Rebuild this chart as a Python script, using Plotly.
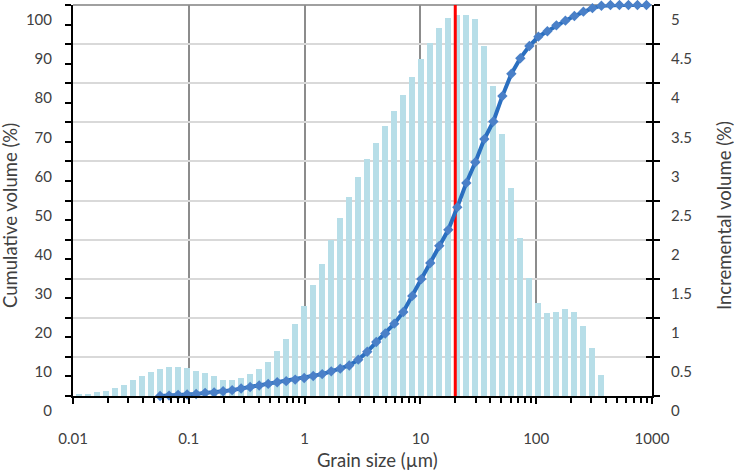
import plotly.graph_objects as go

# ---------------- data ----------------
grain_size_um = [
    0.01127, 0.01348, 0.01612, 0.01929, 0.02307, 0.02760, 0.03301, 0.03949, 0.04723, 0.05649,
    0.06758, 0.08084, 0.09670, 0.1157, 0.1383, 0.1655, 0.1979, 0.2368, 0.2831, 0.3387,
    0.4052, 0.4847, 0.5798, 0.6935, 0.8296, 0.9920, 1.187, 1.419, 1.698, 2.031,
    2.429, 2.906, 3.475, 4.157, 4.973, 5.948, 7.115, 8.511, 10.18, 12.17,
    14.56, 17.42, 20.84, 24.92, 29.81, 35.66, 42.65, 51.02, 61.01, 72.98,
    87.30, 104.4, 124.9, 149.4, 178.7, 213.7, 255.6, 305.8, 365.7, 437.5,
    523.3, 626.0, 748.8, 895.6,
]

incremental_pct = [
    0.02, 0.03, 0.045, 0.07, 0.10, 0.14, 0.20, 0.26, 0.31, 0.35,
    0.37, 0.37, 0.36, 0.32, 0.29, 0.26, 0.21, 0.20, 0.23, 0.28,
    0.35, 0.44, 0.58, 0.73, 0.92, 1.15, 1.42, 1.69, 1.99, 2.27,
    2.54, 2.80, 3.03, 3.24, 3.45, 3.64, 3.85, 4.08, 4.31, 4.52,
    4.70, 4.83, 4.87, 4.87, 4.82, 4.48, 3.97, 3.35, 2.66, 2.02,
    1.51, 1.19, 1.06, 1.07, 1.11, 1.07, 0.90, 0.61, 0.27,
]

cumulative_pct = [
    0.0, 0.1, 0.3, 0.4, 0.5, 0.8, 0.9, 1.2, 1.5, 1.9,
    2.3, 2.7, 3.1, 3.5, 3.8, 4.2, 4.6, 5.1, 5.6, 6.3,
    7.0, 7.8, 9.3, 11.3, 13.8, 16.0, 18.5, 21.5, 25.6, 29.9,
    34.0, 38.4, 42.5, 48.3, 54.5, 59.8, 65.7, 70.2, 76.7, 82.4,
    86.4, 89.5, 91.9, 93.3, 94.8, 96.0, 97.2, 98.3, 99.2, 99.8,
    100.0, 100.0, 100.0, 100.0, 100.0,
]
cumulative_start = 9  # cumulative curve starts at this size class

median_marker_um = 20

x_tick_values = [0.01, 0.1, 1, 10, 100, 1000]
x_tick_labels = ["0.01", "0.1", "1", "10", "100", "1000"]
left_tick_values = [0, 10, 20, 30, 40, 50, 60, 70, 80, 90, 100]
right_tick_values = [0, 0.5, 1, 1.5, 2, 2.5, 3, 3.5, 4, 4.5, 5]
right_tick_labels = ["0", "0.5", "1", "1.5", "2", "2.5", "3", "3.5", "4", "4.5", "5"]

# ---------------- styling ----------------
FONT = "Lato"
TXT = "#404040"
BAR = "#b7dee8"
LINE = "#2a6fc0"
MARK = "#4a80c8"
BAR_REL_WIDTH = 0.12  # bar width relative to its size class (log axis)

minor_x = [m * d for d in x_tick_values[:-1] for m in range(2, 10)]
bar_sizes = grain_size_um[:len(incremental_pct)]

fig = go.Figure()

fig.add_trace(go.Bar(
    x=bar_sizes, y=incremental_pct,
    width=[s * BAR_REL_WIDTH for s in bar_sizes],
    marker=dict(color=BAR, line=dict(width=0)),
    xaxis="x", yaxis="y", showlegend=False, hoverinfo="skip",
))

fig.add_trace(go.Scatter(
    x=[median_marker_um, median_marker_um], y=[0, 5],
    mode="lines", line=dict(color="#ff0000", width=3),
    xaxis="x", yaxis="y", showlegend=False, hoverinfo="skip",
))

fig.add_trace(go.Scatter(
    x=grain_size_um[cumulative_start:cumulative_start + len(cumulative_pct)],
    y=cumulative_pct, mode="lines+markers",
    line=dict(color=LINE, width=4),
    marker=dict(symbol="diamond", size=8, color=MARK),
    xaxis="x", yaxis="y2", showlegend=False, cliponaxis=False,
))

fig.update_layout(
    width=734, height=471,
    margin=dict(l=73, r=82, t=5, b=75),
    paper_bgcolor="white", plot_bgcolor="white",
    font=dict(family=FONT, size=15, color=TXT),
    bargap=0,
    xaxis=dict(
        type="log", range=[-2, 3],
        tickmode="array", tickvals=x_tick_values, ticktext=x_tick_labels,
        showgrid=True, gridcolor="#8c8c8c", gridwidth=1.5,
        showline=True, linecolor="black", linewidth=2,
        ticks="outside", ticklen=6, tickwidth=1.5, tickcolor="black",
        ticklabelstandoff=22,
        minor=dict(tickmode="array", tickvals=minor_x, ticks="outside",
                   ticklen=5, tickwidth=1.5, tickcolor="black", showgrid=False),
        zeroline=False, fixedrange=True,
    ),
    yaxis=dict(
        side="right", range=[0, 5],
        tickmode="array", tickvals=right_tick_values, ticktext=right_tick_labels,
        showgrid=True, gridcolor="#d9d9d9", gridwidth=1.5,
        showline=True, linecolor="black", linewidth=2,
        ticks="outside", ticklen=6, tickwidth=1.5, tickcolor="black",
        ticklabelshift=15, ticklabelstandoff=8,
        zeroline=False, fixedrange=True,
    ),
    yaxis2=dict(
        overlaying="y", side="left", range=[0, 100],
        tickmode="array", tickvals=left_tick_values,
        showgrid=False,
        showline=True, linecolor="black", linewidth=2,
        ticks="outside", ticklen=6, tickwidth=1.5, tickcolor="black",
        minor=dict(dtick=5, ticks="outside", ticklen=6, tickwidth=1.5,
                   tickcolor="black", showgrid=False),
        ticklabelshift=15, ticklabelstandoff=10,
        zeroline=False, fixedrange=True,
    ),
    yaxis3=dict(
        overlaying="y", side="right", range=[0, 5],
        tickmode="array", tickvals=right_tick_values,
        showticklabels=False, showgrid=False, showline=False,
        ticks="inside", ticklen=6, tickwidth=1.5, tickcolor="black",
        zeroline=False, fixedrange=True,
    ),
    shapes=[dict(type="line", xref="paper", yref="paper", x0=0, x1=1, y0=1, y1=1,
                 line=dict(color="#a0a0a0", width=2), layer="between")],
    annotations=[
        dict(text="Grain size (µm)", xref="paper", yref="paper",
             x=(377 - 73) / 579, y=(396 - 460) / 391, showarrow=False,
             xanchor="center", yanchor="middle",
             font=dict(family=FONT, size=18.5, color=TXT)),
        dict(text="Cumulative volume (%)", xref="paper", yref="paper",
             x=(10 - 73) / 579, y=(396 - 216) / 391, textangle=-90, showarrow=False,
             xanchor="center", yanchor="middle",
             font=dict(family=FONT, size=18.5, color=TXT)),
        dict(text="Incremental volume (%)", xref="paper", yref="paper",
             x=(724 - 73) / 579, y=(396 - 216) / 391, textangle=-90, showarrow=False,
             xanchor="center", yanchor="middle",
             font=dict(family=FONT, size=18.5, color=TXT)),
    ],
)

# invisible trace to activate the inner-tick axis
fig.add_trace(go.Scatter(x=[1], y=[0], yaxis="y3", xaxis="x", mode="markers",
                         marker=dict(opacity=0), showlegend=False, hoverinfo="skip"))

fig.write_html("out.html")
